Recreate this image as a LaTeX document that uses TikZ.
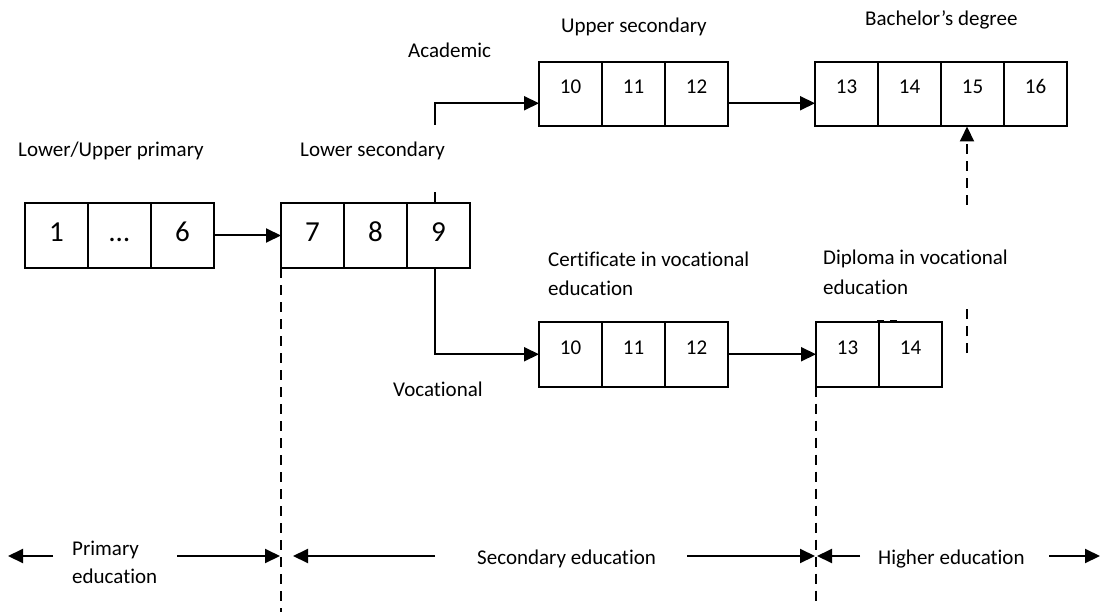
\documentclass[tikz,border=0pt]{standalone}
\usepackage{fontspec}
\setmainfont{Carlito}[RawFeature={-liga;-clig;-calt;-dlig}]
\usetikzlibrary{arrows.meta}
\begin{document}
\begin{tikzpicture}[x=1pt,y=-1pt,
  cell/.style={draw, line width=2pt, inner sep=0pt, outer sep=0pt,
    minimum width=63pt, text height=32pt, text depth=32.5pt,
    font=\fontsize{21}{25}\selectfont},
  bigcell/.style={draw, line width=2pt, inner sep=0pt, outer sep=0pt,
    minimum width=63pt, text height=39pt, text depth=26pt,
    font=\fontsize{29}{34}\selectfont},
  lbl/.style={anchor=base west, inner sep=0pt, font=\fontsize{21}{25}\selectfont},
  arr/.style={line width=2pt, -{Triangle[length=15pt,width=14pt]}},
  plainline/.style={line width=2pt},
  dashline/.style={line width=2pt, dash pattern=on 10pt off 7pt},
  dasharr/.style={line width=2pt, dash pattern=on 10pt off 7pt,
    -{Triangle[length=15pt,width=14pt]}},
]
\useasboundingbox (0,0) rectangle (1102,612);

% primary school years
\node[bigcell, anchor=north west] (p1) at (25,203) {1};
\node[bigcell, anchor=west] (p2) at (p1.east) {…};
\node[bigcell, anchor=west] (p3) at (p2.east) {6};

% lower secondary
\node[bigcell, anchor=north west] (s7) at (281,203) {7};
\node[bigcell, anchor=west] (s8) at (s7.east) {8};
\node[bigcell, anchor=west] (s9) at (s8.east) {9};

% upper secondary (academic)
\node[cell, anchor=north west] (u10) at (539,62) {10};
\node[cell, anchor=west] (u11) at (u10.east) {11};
\node[cell, anchor=west] (u12) at (u11.east) {12};

% bachelor's degree
\node[cell, anchor=north west] (b13) at (815,62) {13};
\node[cell, anchor=west] (b14) at (b13.east) {14};
\node[cell, anchor=west] (b15) at (b14.east) {15};
\node[cell, anchor=west] (b16) at (b15.east) {16};

% certificate in vocational education
\node[cell, anchor=north west] (c10) at (539,322) {10};
\node[cell, anchor=west] (c11) at (c10.east) {11};
\node[cell, anchor=west] (c12) at (c11.east) {12};

% diploma in vocational education
\node[cell, anchor=north west] (d13) at (816,322) {13};
\node[cell, anchor=west] (d14) at (d13.east) {14};

% labels
\node[lbl] (lup) at (18,157) {Lower/Upper primary};
\node[lbl] (lsec) at (300,157) {Lower secondary};
\node[lbl] (acad) at (408,58) {Academic};
\node[lbl] (usec) at (561,33) {Upper secondary};
\node[lbl] (bach) at (865,26) {Bachelor’s degree};
\node[lbl] (cert) at (548,266) {Certificate in vocational};
\node[lbl] (certb) at (548,295) {education};
\node[lbl] (dipl) at (823,265) {Diploma in vocational};
\node[lbl] (diplb) at (823,294) {education};
\node[lbl] (voc) at (393,396) {Vocational};

% flow arrows
\draw[arr] (p3.east) -- (s7.west);
\coordinate (acadgap) at (435,192);
\coordinate (acadup) at (435,125);
\draw[plainline] ([xshift=-3.5pt]s9.north) -- (acadgap);
\draw[arr] (acadup) |- ([yshift=-9pt]u10.west);
\draw[arr] ([xshift=-3.5pt]s9.south) |- (c10.west);
\draw[arr] ([yshift=-9pt]u12.east) -- ([yshift=-9pt]b13.west);
\draw[arr] (c12.east) -- (d13.west);

% transfer from diploma to bachelor
\coordinate (vlow) at (967,353);
\coordinate (vlowtop) at (967,307);
\coordinate (vhigh) at (967,205);
\draw[dashline] (vlow) -- (vlowtop);
\draw[dasharr] (vhigh) -- (vhigh |- b15.south);
\draw[line width=1pt] (877,320.5) -- (884,320.5) (890,320.5) -- (897,320.5);

% stage boundaries
\coordinate (bnd1) at (281,612);
\coordinate (bnd2) at (816,606);
\draw[dashline] (s7.south west) -- (bnd1);
\draw[dashline] (d13.south west) -- (bnd2);

% stage spans
\coordinate (e1a) at (53,556);   \coordinate (e1b) at (8,556);
\coordinate (e2a) at (177,556);  \coordinate (e2b) at (280,556);
\coordinate (e3a) at (435,556);  \coordinate (e3b) at (293,556);
\coordinate (e4a) at (687,556);  \coordinate (e4b) at (815,556);
\coordinate (e5a) at (860,556);  \coordinate (e5b) at (817,556);
\coordinate (e6a) at (1049,556); \coordinate (e6b) at (1100,556);
\draw[arr] (e1a) -- (e1b);
\draw[arr] (e2a) -- (e2b);
\draw[arr] (e3a) -- (e3b);
\draw[arr] (e4a) -- (e4b);
\draw[arr] (e5a) -- (e5b);
\draw[arr] (e6a) -- (e6b);

\node[lbl] (prim) at (72,555) {Primary};
\node[lbl] (primb) at (72,583) {education};
\node[lbl] (seced) at (477,564) {Secondary education};
\node[lbl] (highed) at (878,564) {Higher education};
\end{tikzpicture}
\end{document}
